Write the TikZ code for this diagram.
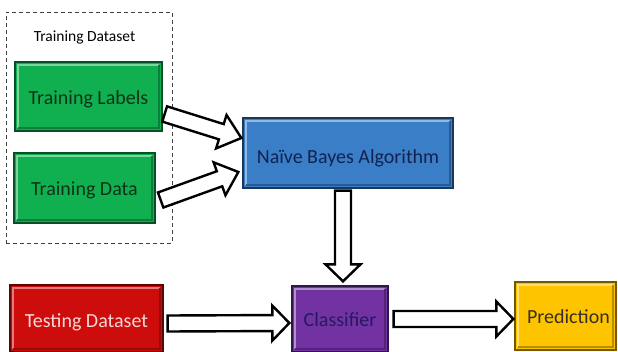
\documentclass[tikz,border=0pt]{standalone}
\usepackage{fontspec}
\setmainfont{Carlito}
\usetikzlibrary{calc}
\definecolor{tgreen}{RGB}{16,176,80}
\definecolor{tgreentxt}{RGB}{14,50,24}
\definecolor{tblue}{RGB}{58,126,200}
\definecolor{tbluetxt}{RGB}{18,34,80}
\definecolor{tred}{RGB}{205,12,12}
\definecolor{tredtxt}{RGB}{246,214,214}
\definecolor{tpurple}{RGB}{114,50,162}
\definecolor{tpurpletxt}{RGB}{36,26,96}
\definecolor{tyellow}{RGB}{255,196,0}
\definecolor{tyellowtxt}{RGB}{56,46,36}
\newcommand\blockarrow[3][18pt]{%
  \coordinate (bap) at ($(#3)!#1!(#2)$);
  \draw[blockarrowstyle]
    ($(#2)!8pt!90:(#3)$) -- ($(bap)!8pt!-90:(#2)$) -- ($(bap)!17.5pt!-90:(#2)$)
    -- (#3) -- ($(bap)!17.5pt!90:(#2)$) -- ($(bap)!8pt!90:(#2)$)
    -- ($(#2)!8pt!-90:(#3)$) -- cycle;}
\tikzset{
  blockarrowstyle/.style={draw=black, fill=white, line width=2.4pt, line join=miter},
  bevelbox/.style={draw=#1!45!black, line width=1.3pt, fill=#1, inner sep=0pt,
    font=\fontsize{20}{24}\selectfont,
    path picture={
      \draw[#1!55!white, line width=2.6pt]
        ([xshift=3pt,yshift=3pt]path picture bounding box.south west) |-
        ([xshift=-3pt,yshift=-3pt]path picture bounding box.north east);
      \draw[#1!72!black, line width=2.6pt]
        ([xshift=3pt,yshift=3pt]path picture bounding box.south west) -|
        ([xshift=-3pt,yshift=-3pt]path picture bounding box.north east);
    }},
  ctext/.style={text height=#1, text depth=0pt},
  groupbox/.style={draw=black!75, line width=0.9pt, dash pattern=on 4pt off 3pt, inner sep=0pt},
  smalllabel/.style={font=\fontsize{15.5}{18}\selectfont, text=black, inner sep=0pt}
}
\begin{document}
\begin{tikzpicture}[x=1pt,y=-1pt]
\useasboundingbox (0,0) rectangle (618,352);
\node[groupbox, minimum width=166, minimum height=231] (grp) at (89,127.5) {};
\node[smalllabel, ctext=10pt] (grplabel) at (84.5,37) {Training Dataset};
\node[bevelbox=tgreen, text=tgreentxt, ctext=16.9pt, minimum width=147, minimum height=69] (tl) at (88.5,96.5) {Training Labels};
\node[bevelbox=tgreen, text=tgreentxt, ctext=15.9pt, minimum width=141, minimum height=70] (td) at (84.5,188) {Training Data};
\node[bevelbox=tblue, text=tbluetxt, ctext=21.9pt, minimum width=210, minimum height=70] (nb) at (348,153) {Naïve Bayes Algorithm};
\node[bevelbox=tred, text=tredtxt, ctext=17.9pt, minimum width=153, minimum height=67] (ts) at (86.5,318.5) {Testing Dataset};
\node[bevelbox=tpurple, text=tpurpletxt, ctext=15.9pt, minimum width=96, minimum height=66] (cl) at (340,319) {Classifier};
\node[bevelbox=tyellow, text=tyellowtxt, ctext=14.9pt, minimum width=101, minimum height=68] (pr) at (565.5,316) {\hspace*{6pt}Prediction};
% arrow end points
\coordinate (a1s) at ($(tl.east)+(2,17.5)$);
\coordinate (a1e) at ($(nb.west)+(-1,-15)$);
\coordinate (a2s) at ($(td.east)+(5,12)$);
\coordinate (a2e) at ($(nb.west)+(-4,19)$);
\coordinate (a3s) at ($(nb.south)+(-5,2)$);
\coordinate (a3e) at ($(cl.north)+(3,-4)$);
\coordinate (a4s) at ($(ts.east)+(4,5)$);
\coordinate (a4e) at ($(cl.west)+(-2,4)$);
\coordinate (a5s) at ($(cl.east)+(5,0)$);
\coordinate (a5e) at ($(pr.west)+(-1,3)$);
\blockarrow[21pt]{a1s}{a1e}
\blockarrow[20pt]{a2s}{a2e}
\blockarrow[17pt]{a3s}{a3e}
\blockarrow[17pt]{a4s}{a4e}
\blockarrow[17pt]{a5s}{a5e}
\end{tikzpicture}
\end{document}
